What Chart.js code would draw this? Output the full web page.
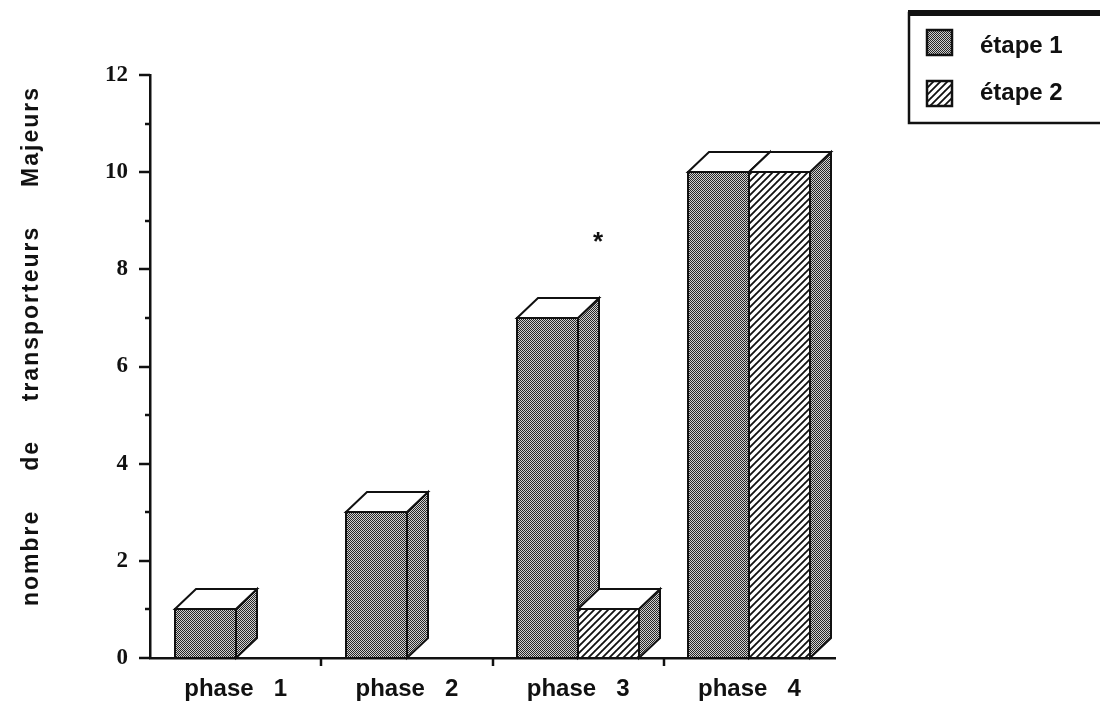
<!DOCTYPE html>
<html lang="fr">
<head>
<meta charset="utf-8">
<title>Transporteurs majeurs par phase</title>
<script src="https://cdn.jsdelivr.net/npm/chart.js@4.4.1/dist/chart.umd.min.js"></script>
<style>
  html, body { margin: 0; padding: 0; background: #ffffff; }
  #wrap { width: 1100px; height: 703px; }
</style>
</head>
<body>
<div id="wrap"><canvas id="chart" width="1100" height="703"></canvas></div>
<script>
// Data
const categories = ['phase 1', 'phase 2', 'phase 3', 'phase 4'];
const seriesNames = ['étape 1', 'étape 2'];
const etape1 = [1, 3, 7, 10];
const etape2 = [0, 0, 1, 10];
const significance = ['', '', '*', ''];
const yMin = 0;
const yMax = 12;
const yMajorStep = 2;
const yMinorStep = 1;
const yAxisTitle = ['nombre', 'de', 'transporteurs', 'Majeurs'];

// Drawing constants
const DEPTH_X = 21;
const DEPTH_Y = 20;
const INK = '#111111';
const SANS = '"Liberation Sans", Arial, Helvetica, sans-serif';
const SERIF = '"Liberation Serif", "Times New Roman", serif';

function makeStipple() {
  const c = document.createElement('canvas');
  c.width = 2; c.height = 2;
  const g = c.getContext('2d');
  g.fillStyle = '#d0d0d0';
  g.fillRect(0, 0, 2, 2);
  g.fillStyle = '#262626';
  g.fillRect(0, 0, 1, 1);
  g.fillRect(1, 1, 1, 1);
  return g.createPattern(c, 'repeat');
}

function makeHatch() {
  const s = 7;
  const c = document.createElement('canvas');
  c.width = s; c.height = s;
  const g = c.getContext('2d');
  g.fillStyle = '#ffffff';
  g.fillRect(0, 0, s, s);
  g.strokeStyle = INK;
  g.lineWidth = 1.8;
  g.lineCap = 'square';
  for (const x0 of [-s, 0, s]) {
    g.beginPath();
    g.moveTo(x0, s);
    g.lineTo(x0 + s, 0);
    g.stroke();
  }
  return g.createPattern(c, 'repeat');
}

const stipple = makeStipple();
const hatch = makeHatch();
const fills = [stipple, hatch];

// Each bar is drawn as a box: patterned front, stippled side, white top.
// Geometry comes from the bar elements laid out by the category/linear scales.
const boxBars = {
  id: 'boxBars',
  afterDatasetsDraw(chart) {
    const ctx = chart.ctx;
    ctx.save();
    ctx.lineWidth = 2;
    ctx.lineJoin = 'miter';
    ctx.strokeStyle = INK;
    chart.data.datasets.forEach((ds, d) => {
      const meta = chart.getDatasetMeta(d);
      meta.data.forEach((el, i) => {
        if (!ds.data[i]) return;
        const p = el.getProps(['x', 'y', 'base', 'width'], true);
        const left = Math.round(p.x - p.width / 2);
        const right = Math.round(p.x + p.width / 2);
        const top = Math.round(p.y);
        const base = Math.round(p.base);
        // front
        ctx.fillStyle = fills[d];
        ctx.fillRect(left, top, right - left, base - top);
        ctx.strokeRect(left, top, right - left, base - top);
        // side
        ctx.beginPath();
        ctx.moveTo(right, top);
        ctx.lineTo(right + DEPTH_X, top - DEPTH_Y);
        ctx.lineTo(right + DEPTH_X, base - DEPTH_Y);
        ctx.lineTo(right, base);
        ctx.closePath();
        ctx.fillStyle = stipple;
        ctx.fill();
        ctx.stroke();
        // top
        ctx.beginPath();
        ctx.moveTo(left, top);
        ctx.lineTo(left + DEPTH_X, top - DEPTH_Y);
        ctx.lineTo(right + DEPTH_X, top - DEPTH_Y);
        ctx.lineTo(right, top);
        ctx.closePath();
        ctx.fillStyle = '#ffffff';
        ctx.fill();
        ctx.stroke();
      });
    });
    ctx.restore();
  }
};

// Axis ticks, y title, legend and significance marks
const decorations = {
  id: 'decorations',
  afterDraw(chart) {
    const ctx = chart.ctx;
    const xs = chart.scales.x;
    const ys = chart.scales.y;
    const area = chart.chartArea;
    ctx.save();
    ctx.strokeStyle = INK;
    ctx.fillStyle = INK;
    ctx.lineWidth = 2.5;

    // y ticks (major and minor)
    for (let v = yMin; v <= yMax; v += yMinorStep) {
      const py = Math.round(ys.getPixelForValue(v));
      const len = (v % yMajorStep === 0) ? 11 : 5;
      ctx.beginPath();
      ctx.moveTo(area.left - len, py);
      ctx.lineTo(area.left, py);
      ctx.stroke();
    }

    // x ticks between categories
    for (let i = 0; i < categories.length - 1; i++) {
      const px = Math.round((xs.getPixelForValue(i) + xs.getPixelForValue(i + 1)) / 2);
      ctx.beginPath();
      ctx.moveTo(px, area.bottom);
      ctx.lineTo(px, area.bottom + 8);
      ctx.stroke();
    }

    // y axis title, words spread along the axis
    ctx.font = 'bold 23px ' + SANS;
    ctx.letterSpacing = '2px';
    ctx.textBaseline = 'alphabetic';
    ctx.textAlign = 'left';
    const widths = yAxisTitle.map(w => ctx.measureText(w).width);
    const spanStart = 606, spanEnd = 86;
    const total = widths.reduce((a, b) => a + b, 0);
    const gap = ((spanStart - spanEnd) - total) / (yAxisTitle.length - 1);
    ctx.translate(38, spanStart);
    ctx.rotate(-Math.PI / 2);
    let pos = 0;
    yAxisTitle.forEach((w, i) => {
      ctx.fillText(w, pos, 0);
      pos += widths[i] + gap;
    });
    ctx.setTransform(1, 0, 0, 1, 0, 0);
    ctx.letterSpacing = '0px';

    // significance marks above the tallest bar of a phase
    ctx.font = 'bold 26px ' + SANS;
    ctx.textAlign = 'center';
    ctx.textBaseline = 'middle';
    significance.forEach((mark, i) => {
      if (!mark) return;
      const top = Math.max(etape1[i], etape2[i]);
      const py = ys.getPixelForValue(top) - DEPTH_Y - 55;
      ctx.fillText(mark, xs.getPixelForValue(i) + 20, py);
    });

    // legend
    const lx = 909, ly = 13, lw = 220, lh = 110;
    ctx.lineWidth = 2.5;
    ctx.strokeRect(lx, ly, lw, lh);
    ctx.fillRect(lx - 1, ly - 3, lw, 6);
    ctx.font = 'bold 24px ' + SANS;
    ctx.textAlign = 'left';
    ctx.textBaseline = 'alphabetic';
    seriesNames.forEach((name, i) => {
      const sy = 30 + i * 51;
      ctx.fillStyle = fills[i];
      ctx.fillRect(927, sy, 25, 25);
      ctx.lineWidth = 2.5;
      ctx.strokeRect(927, sy, 25, 25);
      ctx.fillStyle = INK;
      ctx.fillText(name, 980, 53 + i * 47);
    });
    ctx.restore();
  }
};

const chart = new Chart(document.getElementById('chart'), {
  type: 'bar',
  data: {
    labels: categories,
    datasets: [
      {
        label: seriesNames[0],
        data: etape1,
        backgroundColor: 'rgba(0,0,0,0)',
        borderWidth: 0
      },
      {
        label: seriesNames[1],
        data: etape2,
        backgroundColor: 'rgba(0,0,0,0)',
        borderWidth: 0
      }
    ]
  },
  options: {
    responsive: false,
    animation: false,
    events: [],
    layout: { padding: { top: 75, right: 265, left: 0, bottom: 0 } },
    datasets: { bar: { categoryPercentage: 0.713, barPercentage: 1.0 } },
    plugins: {
      legend: { display: false },
      tooltip: { enabled: false },
      title: { display: false }
    },
    scales: {
      x: {
        type: 'category',
        offset: true,
        grid: { display: true, drawOnChartArea: false, drawTicks: false },
        border: { display: true, color: INK, width: 2.5 },
        ticks: {
          color: INK,
          font: { family: SANS, size: 24, weight: 'bold' },
          padding: 17,
          maxRotation: 0,
          autoSkip: false,
          callback: (v, i) => categories[i].replace(' ', '   ')
        },
        afterFit: s => { s.height = 45; }
      },
      y: {
        min: yMin,
        max: yMax,
        grid: { display: true, drawOnChartArea: false, drawTicks: false },
        border: { display: true, color: INK, width: 2.5 },
        ticks: {
          stepSize: yMinorStep,
          color: INK,
          font: { family: SERIF, size: 23, weight: 'bold' },
          padding: 22,
          callback: v => (v % yMajorStep === 0 ? String(v) : '')
        },
        afterFit: s => { s.width = 150; }
      }
    }
  },
  plugins: [boxBars, decorations]
});
</script>
</body>
</html>
